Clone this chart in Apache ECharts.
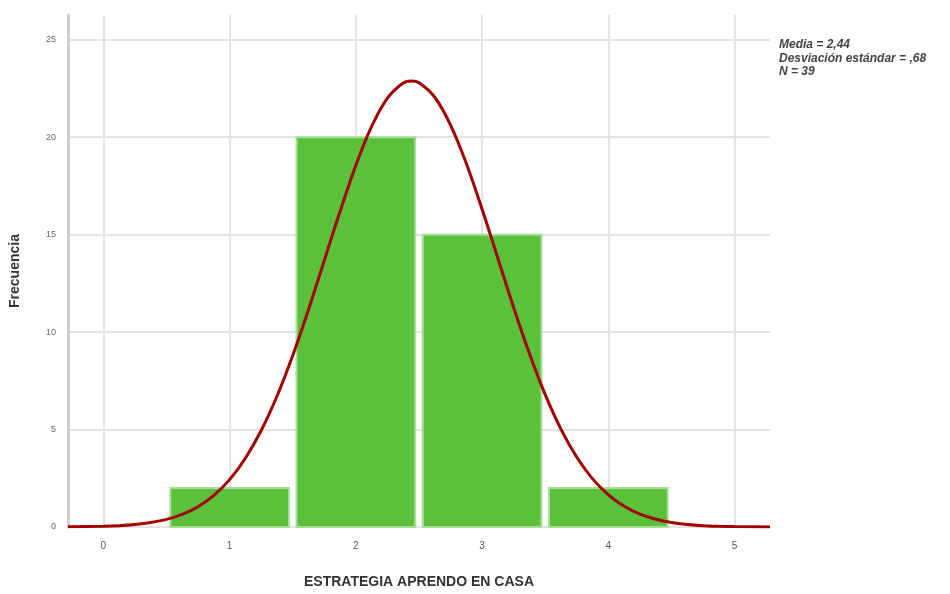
<!DOCTYPE html>
<html>
<head>
<meta charset="utf-8">
<script src="https://cdn.jsdelivr.net/npm/echarts@6/dist/echarts.min.js"></script>
<style>
  html, body { margin: 0; padding: 0; background: #fff; }
  #chart { width: 950px; height: 594px; }
</style>
</head>
<body>
<div id="chart"></div>
<script>
// histograma: valor de la escala y su frecuencia
const categorias = [1, 2, 3, 4]
const frecuencias = [2, 20, 15, 2]

// curva normal (x, frecuencia)
const curvaX = [-0.28, 0, 0.125, 0.25, 0.375, 0.5, 0.625, 0.75, 0.875, 1, 1.125, 1.25, 1.375, 1.5, 1.625, 1.75, 1.875, 2, 2.125, 2.25, 2.375, 2.4375, 2.5, 2.625, 2.75, 2.875, 3, 3.125, 3.25, 3.375, 3.5, 3.625, 3.75, 3.875, 4, 4.125, 4.25, 4.375, 4.5, 4.625, 4.75, 4.875, 5, 5.28]
const curvaY = [0.01, 0.04, 0.07, 0.13, 0.23, 0.39, 0.65, 1.04, 1.62, 2.43, 3.53, 4.95, 6.71, 8.8, 11.16, 13.68, 16.2, 18.56, 20.55, 22.0, 22.78, 22.88, 22.79, 22.05, 20.62, 18.65, 16.3, 13.78, 11.25, 8.89, 6.79, 5.01, 3.58, 2.47, 1.65, 1.06, 0.66, 0.4, 0.23, 0.13, 0.07, 0.04, 0.02, 0.0]

const ticksX = ['0', '1', '2', '3', '4', '5']
const estadisticos = ['Media = 2,44', 'Desviación estándar = ,68', 'N = 39']

const myChart = echarts.init(document.getElementById('chart'))

const grisRejilla = '#e3e3e3'

const option = {
  backgroundColor: '#fff',
  animation: false,
  grid: { left: 67, right: 180, top: 15, bottom: 63 },
  xAxis: {
    type: 'value',
    min: -0.28,
    max: 5.28,
    splitNumber: 5,
    name: 'ESTRATEGIA APRENDO EN CASA',
    nameLocation: 'middle',
    nameGap: 48,
    nameTextStyle: { fontFamily: 'Liberation Sans', fontSize: 14, fontWeight: 'bold', color: '#333' },
    axisLine: { show: false },
    axisTick: { show: false },
    axisLabel: {
      showMinLabel: false,
      showMaxLabel: false,
      fontFamily: 'Liberation Sans',
      fontSize: 10,
      color: '#555',
      margin: 14,
      formatter: v => Number.isInteger(v) ? (ticksX[v] ?? '') : ''
    },
    // la primera y la ultima linea (bordes del area) no se dibujan
    splitLine: {
      show: true,
      lineStyle: { color: ['transparent', grisRejilla, grisRejilla, grisRejilla, grisRejilla, grisRejilla, grisRejilla, 'transparent'], width: 2 }
    }
  },
  yAxis: {
    type: 'value',
    min: 0,
    max: 26.27,
    interval: 5,
    name: 'Frecuencia',
    nameLocation: 'middle',
    nameGap: 46,
    nameRotate: 90,
    nameTextStyle: { fontFamily: 'Liberation Sans', fontSize: 14, fontWeight: 'bold', color: '#333' },
    axisLine: { show: true, onZero: false, lineStyle: { color: '#cfcfcf', width: 3 } },
    axisTick: { show: false },
    axisLabel: { showMaxLabel: false, fontFamily: 'Liberation Sans', fontSize: 9, color: '#666', margin: 12 },
    splitLine: {
      show: true,
      lineStyle: { color: [grisRejilla, grisRejilla, grisRejilla, grisRejilla, grisRejilla, grisRejilla, 'transparent'], width: 2 }
    }
  },
  graphic: estadisticos.map((t, i) => ({
    type: 'text',
    left: 779,
    top: 39 + i * 13.5,
    style: {
      text: t,
      fontFamily: 'Liberation Sans',
      fontSize: 12,
      fontStyle: 'italic',
      fontWeight: 'bold',
      fill: '#444'
    }
  })),
  series: [
    {
      type: 'custom',
      data: categorias.map((c, i) => [c, frecuencias[i]]),
      renderItem: (params, api) => {
        const p0 = api.coord([api.value(0) - 0.47, api.value(1)])
        const p1 = api.coord([api.value(0) + 0.47, 0])
        return {
          type: 'rect',
          shape: { x: p0[0], y: p0[1], width: p1[0] - p0[0], height: p1[1] - p0[1] },
          style: { fill: '#5cc13a', stroke: '#a9dd9a', lineWidth: 2 }
        }
      },
      z: 2
    },
    {
      type: 'line',
      data: curvaX.map((x, i) => [x, curvaY[i]]),
      smooth: 0.3,
      showSymbol: false,
      lineStyle: { color: '#a30000', width: 3 },
      z: 3
    }
  ]
}

myChart.setOption(option)
</script>
</body>
</html>
